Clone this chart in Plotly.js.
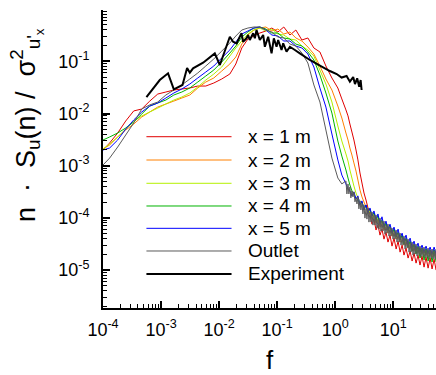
<!DOCTYPE html>
<html>
<head>
<meta charset="utf-8">
<script src="https://cdn.plot.ly/plotly-3.0.1.min.js"></script>
<style>html,body{margin:0;padding:0;background:#fff;}#chart{width:436px;height:375px;}</style>
</head>
<body>
<div id="chart"></div>
<script>
// Frequency grid shared by the x = 1..5 m spectra
const simFreq = [1.00e-4, 1.30e-4, 1.79e-4, 2.46e-4, 3.38e-4, 4.65e-4, 6.39e-4, 8.77e-4, 1.21e-3, 1.66e-3, 2.28e-3, 3.13e-3, 4.29e-3, 5.90e-3, 8.10e-3, 0.0111, 0.0153, 0.0194, 0.0246, 0.0313, 0.0397, 0.0503, 0.0639, 0.0810, 0.103, 0.130, 0.166, 0.210, 0.267, 0.338, 0.429, 0.545, 0.691, 0.877, 1.11, 1.30,
  1.53, 1.66, 1.79, 1.94, 2.10, 2.28, 2.46, 2.67, 2.89, 3.13, 3.39, 3.67, 3.97, 4.30, 4.65, 5.04, 5.45, 5.91, 6.39, 6.92, 7.49, 8.11, 8.79, 9.51, 10.3, 11.2, 12.1, 13.1, 14.2, 15.3, 16.6, 18.0, 19.5, 21.1, 22.8, 24.7, 26.7, 28.9, 31.3, 33.9, 36.7, 39.8, 43.1, 46.6, 50.5, 54.6];

// Frequency grid of the outlet spectrum (finer at high f)
const outletFreq = [1.00e-4, 1.30e-4, 1.79e-4, 2.46e-4, 3.38e-4, 4.65e-4, 6.39e-4, 8.77e-4, 1.21e-3, 1.66e-3, 2.28e-3, 3.13e-3, 4.29e-3, 5.90e-3, 8.10e-3, 0.0111, 0.0153, 0.0194, 0.0246, 0.0313, 0.0397, 0.0503, 0.0639, 0.0810, 0.103, 0.130, 0.166, 0.210, 0.267, 0.338, 0.429, 0.545, 0.691, 0.877, 1.11, 1.30,
  1.53, 1.59, 1.66, 1.72, 1.79, 1.86, 1.94, 2.02, 2.10, 2.19, 2.28, 2.37, 2.46, 2.56, 2.67, 2.77, 2.89, 3.00, 3.13, 3.25, 3.39, 3.52, 3.67, 3.81, 3.97, 4.13, 4.30, 4.47, 4.65, 4.84, 5.04, 5.24, 5.45, 5.67, 5.91, 6.14, 6.39, 6.65, 6.92, 7.20, 7.49, 7.80, 8.11, 8.44, 8.79, 9.14, 9.51, 9.90, 10.3, 10.7, 11.2, 11.6, 12.1, 12.6, 13.1, 13.6, 14.2, 14.7, 15.3, 16.0, 16.6, 17.3, 18.0, 18.7, 19.5, 20.2, 21.1, 21.9, 22.8, 23.7, 24.7, 25.7, 26.7, 27.8, 28.9, 30.1, 31.3, 32.6, 33.9, 35.3, 36.7, 38.2, 39.8, 41.4, 43.1, 44.8, 46.6, 48.5, 50.5, 52.5, 54.6];

const x1m = [2.0e-3, 2.72e-3, 4.23e-3, 7.18e-3, 0.0112, 0.0122, 0.0173, 0.0236, 0.0258, 0.0282, 0.0295, 0.0308, 0.0336, 0.0336, 0.0384, 0.0458, 0.0571, 0.0888, 0.180, 0.267, 0.305, 0.348, 0.381, 0.434, 0.364, 0.454, 0.319, 0.398, 0.256, 0.280, 0.180, 0.151, 0.0813, 0.0479, 0.0308, 0.0190,
  0.0117, 9.0e-3, 6.29e-3, 4.42e-3, 3.11e-3, 2.0e-3, 1.29e-3, 7.25e-4, 4.66e-4, 3.0e-4, 2.20e-4, 1.55e-4, 1.19e-4, 7.60e-5, 9.48e-5, 5.86e-5, 7.28e-5, 4.68e-5, 6.10e-5, 3.92e-5, 5.34e-5, 3.44e-5, 4.68e-5, 2.88e-5, 4.10e-5, 2.53e-5, 3.59e-5, 2.21e-5, 3.01e-5, 1.94e-5, 2.64e-5, 1.70e-5, 2.31e-5, 1.49e-5, 2.12e-5, 1.36e-5, 1.94e-5, 1.25e-5, 1.85e-5, 1.14e-5, 1.77e-5, 1.09e-5, 1.70e-5, 1.05e-5, 1.62e-5, 1.00e-5];

const x2m = [2.09e-3, 2.49e-3, 3.55e-3, 4.83e-3, 6.29e-3, 8.58e-3, 0.0107, 0.0133, 0.0152, 0.0173, 0.0198, 0.0226, 0.0308, 0.0401, 0.0479, 0.0652, 0.0888, 0.121, 0.214, 0.319, 0.398, 0.434, 0.454, 0.381, 0.416, 0.333, 0.364, 0.280, 0.245, 0.188, 0.138, 0.0813, 0.0458, 0.0282, 0.0139, 8.20e-3,
  4.23e-3, 3.11e-3, 2.18e-3, 1.60e-3, 1.13e-3, 7.9e-4, 5.32e-4, 3.42e-4, 2.52e-4, 2.02e-4, 1.62e-4, 1.19e-4, 1.30e-4, 9.48e-5, 1.09e-4, 7.95e-5, 9.07e-5, 6.66e-5, 7.60e-5, 5.86e-5, 6.66e-5, 5.11e-5, 5.86e-5, 4.48e-5, 5.11e-5, 3.92e-5, 4.48e-5, 3.44e-5, 3.92e-5, 3.01e-5, 3.44e-5, 2.64e-5, 3.01e-5, 2.31e-5, 2.64e-5, 2.12e-5, 2.42e-5, 1.94e-5, 2.31e-5, 1.85e-5, 2.21e-5, 1.77e-5, 2.12e-5, 1.77e-5, 2.12e-5, 1.70e-5];

const x3m = [2.09e-3, 2.60e-3, 3.55e-3, 5.05e-3, 7.18e-3, 8.96e-3, 0.0107, 0.0127, 0.0152, 0.0181, 0.0207, 0.0247, 0.0322, 0.0438, 0.0571, 0.0778, 0.126, 0.180, 0.245, 0.333, 0.398, 0.434, 0.381, 0.416, 0.333, 0.319, 0.267, 0.256, 0.196, 0.165, 0.126, 0.0681, 0.0367, 0.0166, 5.76e-3, 2.97e-3,
  1.68e-3, 1.23e-3, 8.28e-4, 5.81e-4, 4.08e-4, 3.0e-4, 2.41e-4, 2.11e-4, 1.85e-4, 1.42e-4, 1.62e-4, 1.19e-4, 1.36e-4, 9.91e-5, 1.19e-4, 8.68e-5, 9.91e-5, 7.28e-5, 8.68e-5, 6.37e-5, 7.60e-5, 5.59e-5, 6.66e-5, 4.89e-5, 5.86e-5, 4.29e-5, 5.11e-5, 3.76e-5, 4.48e-5, 3.29e-5, 3.92e-5, 2.88e-5, 3.44e-5, 2.53e-5, 3.01e-5, 2.31e-5, 2.76e-5, 2.21e-5, 2.64e-5, 2.12e-5, 2.53e-5, 2.03e-5, 2.42e-5, 1.94e-5, 2.42e-5, 1.94e-5];

const x4m = [3.11e-3, 3.55e-3, 4.23e-3, 5.28e-3, 6.87e-3, 9.78e-3, 0.0139, 0.0159, 0.0181, 0.0226, 0.0258, 0.0308, 0.0401, 0.0523, 0.0681, 0.0970, 0.144, 0.196, 0.292, 0.364, 0.434, 0.454, 0.416, 0.348, 0.348, 0.280, 0.267, 0.214, 0.196, 0.151, 0.106, 0.0546, 0.0247, 0.0102, 2.97e-3, 1.53e-3,
  8.28e-4, 5.81e-4, 4.27e-4, 3.29e-4, 2.76e-4, 2.41e-4, 2.21e-4, 1.85e-4, 2.02e-4, 1.55e-4, 1.77e-4, 1.30e-4, 1.48e-4, 1.09e-4, 1.25e-4, 9.07e-5, 1.09e-4, 7.60e-5, 9.07e-5, 6.66e-5, 7.95e-5, 5.86e-5, 6.96e-5, 5.11e-5, 6.10e-5, 4.29e-5, 5.34e-5, 3.76e-5, 4.68e-5, 3.15e-5, 4.10e-5, 2.76e-5, 3.59e-5, 2.31e-5, 3.15e-5, 2.03e-5, 2.88e-5, 1.70e-5, 2.64e-5, 1.56e-5, 2.53e-5, 1.49e-5, 2.42e-5, 1.43e-5, 2.42e-5, 1.43e-5];

const x5m = [2.0e-3, 2.18e-3, 3.11e-3, 5.05e-3, 7.51e-3, 0.0107, 0.0139, 0.0159, 0.0198, 0.0247, 0.0295, 0.0367, 0.0479, 0.0624, 0.0813, 0.116, 0.165, 0.234, 0.333, 0.381, 0.434, 0.454, 0.398, 0.319, 0.305, 0.245, 0.245, 0.196, 0.180, 0.138, 0.0778, 0.0308, 0.0133, 4.05e-3, 1.29e-3, 6.62e-4,
  4.48e-4, 3.59e-4, 3.29e-4, 2.64e-4, 3.15e-4, 2.31e-4, 2.64e-4, 1.77e-4, 2.12e-4, 1.42e-4, 1.77e-4, 1.25e-4, 1.55e-4, 1.09e-4, 1.36e-4, 9.48e-5, 1.19e-4, 7.95e-5, 1.05e-4, 6.96e-5, 8.68e-5, 6.10e-5, 7.60e-5, 5.34e-5, 6.66e-5, 4.68e-5, 6.10e-5, 4.10e-5, 5.11e-5, 3.59e-5, 4.68e-5, 3.15e-5, 4.10e-5, 2.76e-5, 3.59e-5, 2.53e-5, 3.29e-5, 2.31e-5, 3.01e-5, 2.21e-5, 2.88e-5, 2.12e-5, 2.76e-5, 2.03e-5, 2.76e-5, 2.03e-5];

const outlet = [1.03e-3, 1.40e-3, 2.28e-3, 3.87e-3, 6.58e-3, 0.0122, 0.0146, 0.0166, 0.0226, 0.0282, 0.0352, 0.0458, 0.0597, 0.0813, 0.111, 0.157, 0.224, 0.305, 0.398, 0.434, 0.454, 0.454, 0.398, 0.364, 0.292, 0.280, 0.214, 0.196, 0.144, 0.0928, 0.0352, 0.0166, 4.83e-3, 1.40e-3, 5.81e-4, 4.48e-4,
  5.11e-4, 2.88e-4, 4.48e-4, 2.88e-4, 3.92e-4, 2.42e-4, 3.29e-4, 2.53e-4, 3.15e-4, 2.03e-4, 2.42e-4, 1.85e-4, 2.53e-4, 1.49e-4, 2.12e-4, 1.42e-4, 1.94e-4, 1.19e-4, 1.77e-4, 9.91e-5, 1.49e-4, 9.48e-5, 1.55e-4, 8.31e-5, 1.30e-4, 8.31e-5, 1.30e-4, 7.28e-5, 1.14e-4, 7.28e-5, 1.14e-4, 6.37e-5, 9.48e-5, 6.10e-5, 9.91e-5, 5.59e-5, 8.68e-5, 5.59e-5, 8.68e-5, 4.89e-5, 7.28e-5, 5.11e-5, 7.60e-5, 4.48e-5, 6.66e-5, 4.48e-5, 6.37e-5, 3.92e-5, 5.59e-5, 3.92e-5, 5.84e-5, 3.44e-5, 5.11e-5, 3.44e-5, 5.11e-5, 3.01e-5, 4.29e-5, 3.01e-5, 4.48e-5, 2.53e-5, 3.92e-5, 2.64e-5, 3.92e-5, 2.21e-5, 3.29e-5, 2.21e-5, 3.44e-5, 1.94e-5, 3.15e-5, 2.03e-5, 3.15e-5, 1.85e-5, 2.76e-5, 1.94e-5, 2.88e-5, 1.77e-5, 2.64e-5, 1.85e-5, 2.76e-5, 1.70e-5, 2.42e-5, 1.77e-5, 2.64e-5, 1.62e-5, 2.42e-5, 1.70e-5, 2.53e-5, 1.62e-5, 2.31e-5, 1.62e-5, 2.53e-5];

// Experiment
const expFreq = [5.60e-4, 9.50e-4, 1.32e-3, 1.66e-3, 2.34e-3, 2.81e-3, 3.13e-3, 3.56e-3, 5.30e-3, 8.43e-3, 0.0103, 0.0153, 0.0174, 0.0200, 0.0243, 0.0259, 0.0297, 0.0316, 0.0338, 0.0386, 0.0413, 0.0441, 0.0503, 0.0574, 0.0614, 0.0700, 0.0801, 0.0877, 0.0976, 0.104, 0.119, 0.127, 0.145, 0.166, 0.202, 0.246, 0.366, 0.545, 0.810, 1.06, 1.29, 1.57, 1.79, 2.04, 2.19, 2.39, 2.59, 2.74, 2.85];
const expVal = [0.0207, 0.0438, 0.0589, 0.0291, 0.0352, 0.0744, 0.0605, 0.0734, 0.0940, 0.142, 0.0850, 0.296, 0.237, 0.221, 0.344, 0.237, 0.276, 0.319, 0.256, 0.344, 0.276, 0.398, 0.256, 0.319, 0.190, 0.296, 0.142, 0.276, 0.190, 0.256, 0.165, 0.221, 0.153, 0.190, 0.165, 0.142, 0.106, 0.0831, 0.0652, 0.0571, 0.0489, 0.0523, 0.0407, 0.0500, 0.0367, 0.0472, 0.0326, 0.0438, 0.0282];

const seriesNames = ['x = 1 m', 'x = 2 m', 'x = 3 m', 'x = 4 m', 'x = 5 m', 'Outlet', 'Experiment'];
const seriesColors = ['#e00000', '#ff8000', '#b4f000', '#00b400', '#0000ff', '#5a5a5a', '#000000'];
const seriesWidths = [1, 1, 1, 1, 1, 1, 2];

// Axis ticks
const xTickVals = [1e-4, 1e-3, 1e-2, 1e-1, 1, 10];
const xTickText = ['10<sup>-4</sup>', '10<sup>-3</sup>', '10<sup>-2</sup>', '10<sup>-1</sup>', '10<sup>0</sup>', '10<sup>1</sup>'];
const yTickVals = [1e-5, 1e-4, 1e-3, 1e-2, 1e-1];
const yTickText = ['10<sup>-5</sup>', '10<sup>-4</sup>', '10<sup>-3</sup>', '10<sup>-2</sup>', '10<sup>-1</sup>'];

const simSeries = [x1m, x2m, x3m, x4m, x5m];
const traces = simSeries.map((ys, i) => ({
  type: 'scatter', mode: 'lines', x: simFreq, y: ys, name: seriesNames[i],
  line: {color: seriesColors[i], width: seriesWidths[i], simplify: false}, hoverinfo: 'skip'
}));
traces.push({type: 'scatter', mode: 'lines', x: outletFreq, y: outlet, name: seriesNames[5],
  line: {color: seriesColors[5], width: seriesWidths[5], simplify: false}, hoverinfo: 'skip'});
traces.push({type: 'scatter', mode: 'lines', x: expFreq, y: expVal, name: seriesNames[6],
  line: {color: seriesColors[6], width: seriesWidths[6], simplify: false}, hoverinfo: 'skip'});

const FONT = 'Liberation Sans, Arial, Helvetica, sans-serif';

// Custom legend (long sample lines like the original)
const legRows = [0.5748, 0.4966, 0.4185, 0.3423, 0.2674, 0.1913, 0.1141];
const shapes = [];
const annotations = [];
seriesNames.forEach((nm, i) => {
  shapes.push({type: 'line', xref: 'paper', yref: 'paper', x0: 0.1304, x1: 0.386, y0: legRows[i], y1: legRows[i],
    line: {color: seriesColors[i], width: seriesWidths[i]}});
  annotations.push({xref: 'paper', yref: 'paper', x: 0.428, y: legRows[i], xanchor: 'left', yanchor: 'middle',
    text: nm, showarrow: false, font: {family: FONT, size: 19, color: '#000'}});
});
annotations.push({xref: 'paper', yref: 'paper', x: -0.229, y: 0.613, xanchor: 'center', yanchor: 'middle',
  textangle: -90, showarrow: false,
  text: 'n &nbsp;·&nbsp; S<sub>u</sub>(n) / &nbsp;σ<sup>2</sup><sub>u\'<sub>x</sub></sub>',
  font: {family: FONT, size: 27, color: '#000'}});

const axisCommon = {
  type: 'log', tickmode: 'array', showline: true, linewidth: 2, linecolor: '#000',
  ticks: 'inside', ticklen: 7, tickwidth: 2, tickcolor: '#000', showgrid: false, zeroline: false,
  tickfont: {family: FONT, size: 18, color: '#000'}, automargin: false,
  minor: {ticks: 'inside', ticklen: 4, tickwidth: 1, tickcolor: '#000', dtick: 'D1', showgrid: false}
};

const layout = {
  width: 436, height: 375,
  margin: {l: 103, r: 0, t: 10, b: 67},
  paper_bgcolor: '#fff', plot_bgcolor: '#fff',
  showlegend: false,
  font: {family: FONT, color: '#000'},
  xaxis: Object.assign({}, axisCommon, {range: [-4, 1.736], tickvals: xTickVals, ticktext: xTickText,
    ticklabelstandoff: 4,
    title: {text: 'f', font: {family: FONT, size: 26, color: '#000'}, standoff: 12}}),
  yaxis: Object.assign({}, axisCommon, {range: [-5.726, -0.017], tickvals: yTickVals, ticktext: yTickText,
    ticklabelstandoff: 8}),
  shapes: shapes,
  annotations: annotations
};

Plotly.newPlot('chart', traces, layout, {staticPlot: true, displayModeBar: false});
</script>
</body>
</html>
